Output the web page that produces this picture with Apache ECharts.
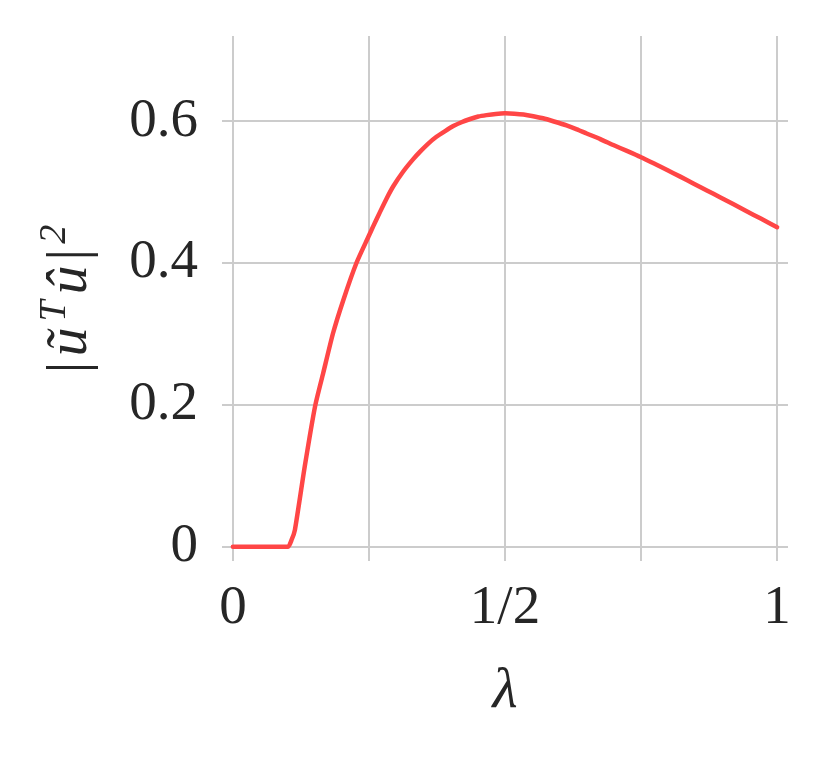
<!DOCTYPE html>
<html>
<head>
<meta charset="utf-8">
<script src="https://cdn.jsdelivr.net/npm/echarts@6/dist/echarts.min.js"></script>
<style>
html,body{margin:0;padding:0;background:#fff;}
#chart{width:828px;height:758px;}
</style>
</head>
<body>
<div id="chart"></div>
<script>
// lambda values
const lambdaValues = [0, 0.05, 0.101, 0.108, 0.114, 0.132, 0.151, 0.166, 0.184, 0.203, 0.227, 0.249, 0.258, 0.270, 0.2825, 0.295, 0.313, 0.331, 0.344, 0.359, 0.374, 0.390, 0.405, 0.420, 0.436, 0.451, 0.466, 0.483, 0.5, 0.517, 0.534, 0.552, 0.570, 0.590, 0.613, 0.632, 0.650, 0.675, 0.699, 0.724, 0.749, 0.773, 0.797, 0.822, 0.846, 0.871, 0.895, 0.920, 0.944, 0.970, 1.0];
// |u~^T u^|^2 values
const overlapValues = [0, 0, 0, 0.010, 0.024, 0.113, 0.198, 0.245, 0.301, 0.348, 0.400, 0.437, 0.452, 0.4714, 0.491, 0.5085, 0.529, 0.5461, 0.557, 0.5684, 0.578, 0.586, 0.593, 0.5985, 0.603, 0.6065, 0.6085, 0.6102, 0.611, 0.6105, 0.6094, 0.607, 0.604, 0.5995, 0.594, 0.5885, 0.5826, 0.5747, 0.5663, 0.5580, 0.5495, 0.5406, 0.5314, 0.5218, 0.5122, 0.5023, 0.4927, 0.4827, 0.4730, 0.4626, 0.4505];
const xGridValues = [0, 0.25, 0.5, 0.75, 1];
const xLabelValues = [0, 0.5, 1];
const xTickLabels = ['0', '1/2', '1'];
const yTickValues = [0, 0.2, 0.4, 0.6];
const yTickLabels = ['0', '0.2', '0.4', '0.6'];

const FONT = '"Liberation Serif", "DejaVu Serif", serif';
const TXT = '#262626';
const GRID = '#cccccc';

const data = lambdaValues.map((x, i) => [x, overlapValues[i]]);

const chart = echarts.init(document.getElementById('chart'), null, {renderer: 'canvas'});
chart.setOption({
  backgroundColor: '#ffffff',
  animation: false,
  grid: {left: 222, right: 40, top: 36, bottom: 197, containLabel: false},
  xAxis: {
    type: 'value', min: -0.02, max: 1.02,
    axisLine: {show: false},
    axisTick: {show: false, customValues: xGridValues},
    splitLine: {show: true, lineStyle: {color: GRID, width: 2}},
    axisLabel: {
      customValues: xLabelValues,
      margin: 20,
      fontFamily: FONT, fontSize: 55, color: TXT,
      formatter: v => { const i = xLabelValues.findIndex(t => Math.abs(t - v) < 1e-9); return i >= 0 ? xTickLabels[i] : ''; }
    },
    name: 'λ', nameLocation: 'middle', nameGap: 102,
    nameTextStyle: {fontFamily: FONT, fontStyle: 'italic', fontSize: 58, color: TXT}
  },
  yAxis: {
    type: 'value', min: -0.02, max: 0.72,
    axisLine: {show: false},
    axisTick: {show: false, customValues: yTickValues},
    splitLine: {show: true, lineStyle: {color: GRID, width: 2}},
    axisLabel: {
      customValues: yTickValues,
      margin: 24,
      fontFamily: FONT, fontSize: 55, color: TXT,
      formatter: v => { const i = yTickValues.findIndex(t => Math.abs(t - v) < 1e-9); return i >= 0 ? yTickLabels[i] : ''; }
    },
    name: '{n||}{i|ũ}{s|T}{i|û}{n||}{s|2}',
    nameLocation: 'middle', nameGap: 122, nameRotate: 90,
    nameTextStyle: {
      fontFamily: FONT, fontSize: 55, color: TXT,
      rich: {
        n: {fontFamily: FONT, fontSize: 58, color: TXT, verticalAlign: 'bottom', lineHeight: 64, padding: [0, 2, 0, 2]},
        i: {fontFamily: FONT, fontSize: 58, fontStyle: 'italic', color: TXT, verticalAlign: 'bottom', lineHeight: 64, padding: [0, 3, 0, 3]},
        s: {fontFamily: FONT, fontSize: 38, fontStyle: 'italic', color: TXT, verticalAlign: 'top', lineHeight: 64, padding: [0, 3, 0, 3]}
      }
    }
  },
  series: [{
    type: 'line',
    data: data,
    showSymbol: false,
    smooth: 0.2,
    lineStyle: {color: '#ff4646', width: 4.5, cap: 'round', join: 'round'},
    itemStyle: {color: '#ff4646'}
  }]
});
</script>
</body>
</html>
